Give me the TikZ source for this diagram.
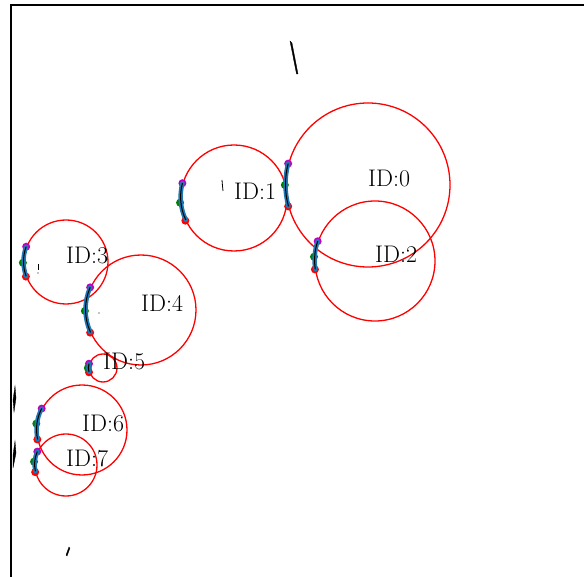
\documentclass[tikz,border=0pt]{standalone}
\definecolor{mplblue}{HTML}{1F77B4}
\definecolor{mplmag}{HTML}{BF00BF}
\definecolor{mplgreen}{HTML}{008000}
\begin{document}
\begin{tikzpicture}[x=1pt,y=1pt,
  ring/.style={circle,draw=red,line width=1.3pt,inner sep=0pt},
  idlabel/.style={anchor=west,inner sep=0pt,font=\fontsize{24}{28}\selectfont},
  dotm/.style={circle,fill=mplmag,inner sep=0pt,minimum size=8pt},
  dotg/.style={circle,fill=mplgreen,inner sep=0pt,minimum size=8pt},
  dotr/.style={circle,fill=red,inner sep=0pt,minimum size=8pt},
  bluearc/.style={draw=mplblue,line width=4.5pt,line cap=round},
  blackarc/.style={draw=black,line width=1pt},
  blob/.style={fill=black,draw=black,line width=0.3pt}]
\useasboundingbox (0,0) rectangle (584,-577);
\draw[line width=1.1pt] (11,-577) -- (11,-5) -- (584,-5);
% circles
\foreach \n/\cx/\cy/\r in {0/368/185/82, 1/234/198/53, 2/375/261/60, 3/66/262/42, 4/141/310/55, 5/103/368/14, 6/82/430/45, 7/66/465/31}{
  \node[ring,minimum size=2*\r pt] (c\n) at (\cx,-\cy) {};
  \node[idlabel] (l\n) at (\cx,-\cy+6.5) {ID:\n};
}
% arcs with dots
\foreach \n/\r/\a/\b/\g in {0/82/165.3/195.5/180, 1/53/164.9/205.6/185.4, 2/60/161.6/188.7/176, 3/42/159.4/200.6/181, 4/55/156.3/204.6/181, 5/14/163/197/180, 6/45/152.3/192.8/172, 7/31/155.9/193/174}{
  \node[dotm] (m\n) at (c\n.\a) {};
  \node[dotr] (r\n) at (c\n.\b) {};
  \node[dotg,xshift=-0.5pt] (g\n) at (c\n.\g) {};
  \draw[bluearc] (m\n.center) arc[start angle=\a,end angle=\b,radius=\r pt];
  \draw[blackarc] (m\n.center) arc[start angle=\a,end angle=\b,radius=\r pt];
}
% small black marks
\fill[blob] (290,-41) -- (292,-43) -- (298,-74) -- (296.5,-74) -- cycle;
\fill[blob] (13,-400) -- (15,-386) -- (16,-398) -- (14,-412) -- cycle;
\fill[blob] (13,-455) -- (15,-441) -- (16,-453) -- (13,-468) -- cycle;
\fill[blob] (66,-555) -- (69,-547) -- (70,-548) -- (67,-556) -- cycle;
\draw[line width=0.8pt] (222,-180) -- (222.5,-186) -- (223,-191);
\draw[line width=0.8pt] (38,-264) -- (38,-270);
\fill (38,-273) circle (0.6);
\fill (99,-313) circle (0.6);
\end{tikzpicture}
\end{document}
